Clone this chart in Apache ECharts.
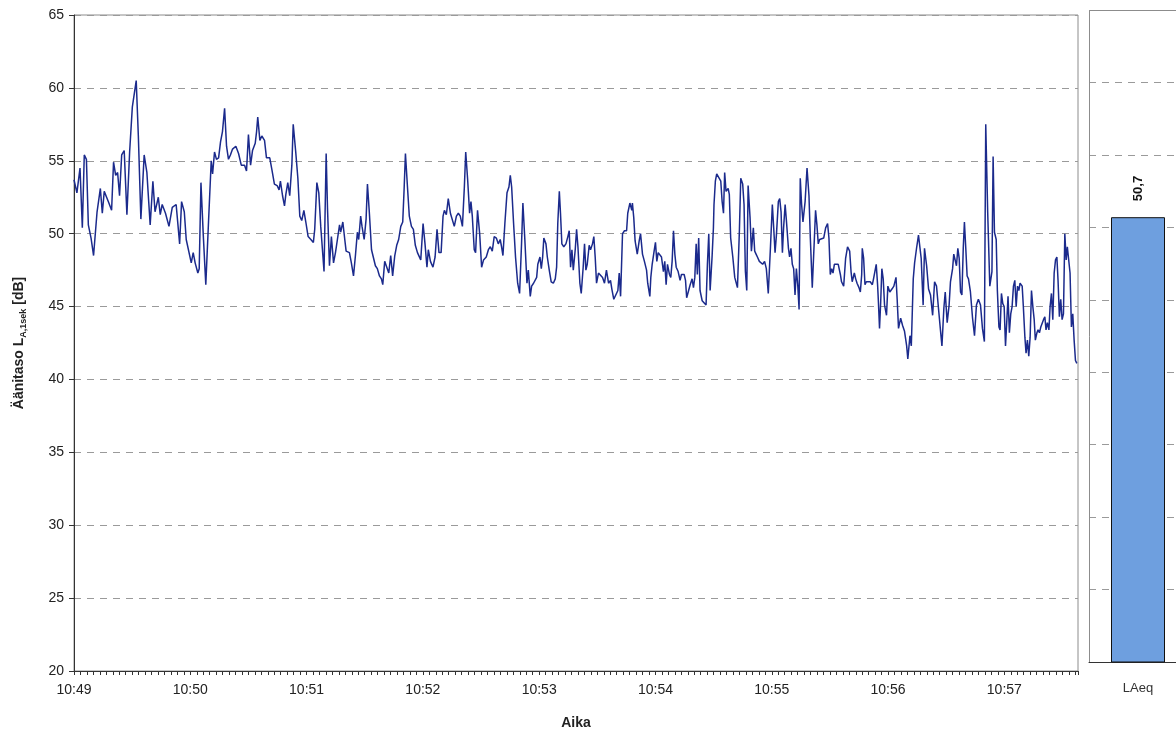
<!DOCTYPE html>
<html>
<head>
<meta charset="utf-8">
<script src="https://cdn.jsdelivr.net/npm/echarts@6/dist/echarts.min.js"></script>
<style>
html,body{margin:0;padding:0;background:#fff;}
#c{width:1176px;height:735px;}
</style>
</head>
<body>
<div id="c"></div>
<script>
// Seconds after 10:49:00
const times = [
0,1.5,3.1,4.3,5.3,6.4,7.4,8.8,10.1,11.9,13.6,14.6,15.6,17.7,19.4,20.4,21.5,22.5,23.5,24.6,25.9,27.3,28.7,30.1,31.1,32.1,33.2,34.5,36.2,37.6,39.3,40.7,41.8,43.5,44.5,45.5,47.2,49.0,50.7,52.7,54.5,55.5,56.9,57.9,
60.5,61.5,62.5,63.9,64.6,65.5,66.7,68.0,69.4,70.8,71.5,72.5,73.5,74.6,75.6,76.6,77.7,78.7,79.7,80.7,81.8,82.8,83.5,84.9,86.3,88.0,89.0,90.0,91.1,92.1,93.5,94.2,94.8,95.9,96.9,98.3,99.3,101.0,102.1,103.4,104.8,105.8,106.5,107.6,108.6,109.3,110.3,111.3,112.4,113.1,114.4,115.5,116.5,117.5,118.6,119.6,
120.8,122.2,123.5,124.2,125.3,126.3,127.3,128.4,129.0,130.1,130.8,131.8,132.8,133.9,134.9,135.9,137.0,137.6,138.7,139.7,140.4,142.1,143.1,144.2,145.2,146.2,146.9,147.9,148.6,149.7,150.7,151.4,152.4,153.5,154.5,155.5,156.5,157.6,158.6,159.3,160.3,161.3,162.4,163.4,164.4,165.5,166.5,167.5,168.6,169.6,170.3,171.0,172.0,173.0,174.1,175.1,176.1,177.2,178.9,
180.1,181.1,182.1,182.8,183.9,185.2,186.3,187.3,188.3,189.4,190.4,191.1,192.1,193.1,194.2,195.2,196.2,197.3,198.3,199.3,200.4,201.4,202.1,203.1,204.1,204.8,205.5,206.5,207.2,208.2,209.3,210.3,211.3,212.7,213.8,214.8,215.8,216.8,217.9,218.9,219.9,220.6,221.3,222.3,223.4,224.4,225.1,225.8,226.8,227.8,228.9,229.9,230.9,231.6,232.6,233.7,234.4,235.4,236.1,237.1,238.1,
238.7,239.3,240.4,241.1,241.8,242.4,243.5,244.2,245.2,246.2,247.3,248.3,249.0,249.6,250.4,251.0,251.7,252.7,253.8,254.8,255.5,256.2,256.9,257.6,258.6,259.3,260.0,261.0,261.7,262.7,263.4,264.1,264.8,265.8,266.5,267.5,268.2,268.9,269.6,270.6,271.6,272.7,273.7,274.7,275.8,276.8,277.5,278.5,279.5,280.6,281.3,282.0,283.0,284.0,285.1,285.7,286.8,287.8,288.1,288.8,289.5,290.6,291.6,292.3,293.3,294.3,295.4,296.0,297.1,
297.6,298.3,299.3,300.0,300.7,301.4,302.1,303.1,304.1,304.8,305.5,306.2,307.2,307.9,308.6,309.3,310.0,310.7,311.7,312.7,313.4,314.1,314.8,315.5,316.1,316.9,317.9,318.9,319.6,320.3,321.0,321.6,322.3,323.0,324.1,325.1,326.1,326.8,327.5,328.2,329.2,329.9,330.2,330.9,331.6,332.6,333.7,334.4,335.1,335.7,336.4,337.5,338.1,338.8,339.9,340.9,342.3,343.3,344.0,345.0,345.7,346.4,347.1,347.8,348.8,349.5,350.5,351.2,351.9,352.6,353.6,354.3,355.3,356.3,
357.2,358.2,359.3,360.3,361.0,361.7,362.4,363.4,364.1,364.8,365.5,366.1,366.9,367.5,368.6,369.2,369.9,370.6,371.3,372.0,372.7,373.4,374.1,374.7,375.4,376.1,377.2,378.2,379.2,379.9,380.9,382.0,382.6,383.3,384.0,384.7,385.7,386.8,387.8,388.8,389.5,390.2,390.9,391.6,392.3,393.3,394.3,395.4,396.0,397.1,398.1,399.1,400.2,400.9,401.5,402.6,403.3,404.0,405.0,405.7,406.4,406.7,407.4,408.1,408.8,409.8,410.8,411.9,412.5,413.2,413.9,414.6,415.0,415.6,
416.2,416.8,417.5,418.2,419.2,419.9,420.9,422.0,423.0,424.1,424.7,425.4,426.5,427.5,428.5,429.6,430.2,431.3,432.0,433.0,433.7,434.7,435.7,436.4,437.1,438.1,438.8,439.9,440.9,441.9,443.0,444.0,445.0,446.0,447.1,447.8,448.8,449.5,450.5,451.5,452.2,453.3,453.9,454.6,455.3,456.0,456.7,457.4,458.1,458.8,459.4,460.1,460.8,461.5,462.5,463.6,464.6,465.6,466.6,467.7,468.7,469.7,470.4,471.4,472.5,473.6,474.2,474.9,
475.8,476.4,477.2,477.8,478.5,479.2,479.9,480.6,481.3,481.9,482.6,483.3,484.0,484.7,485.4,486.1,486.8,487.5,488.1,489.2,489.8,490.6,491.2,491.9,492.6,493.3,494.0,494.7,495.4,496.0,496.8,497.4,498.1,498.8,499.5,500.2,500.9,501.5,502.2,503.0,503.6,504.3,505.0,505.7,506.4,507.1,507.7,508.4,509.1,509.8,510.5,511.2,511.9,512.5,513.3,513.9,514.6,515.3,516.0,516.7,517.4
];
// Sound level LA,1sek (dB)
const levels = [
53.7,52.8,54.5,50.4,55.4,55.1,50.6,49.7,48.5,51.5,53.1,51.4,52.9,52.2,51.6,54.9,54.0,54.2,52.6,55.4,55.7,51.3,55.6,58.7,58.8,60.5,56.7,51.0,55.4,54.2,50.6,53.6,51.5,52.5,51.3,52.0,51.4,50.5,51.8,52.0,49.3,52.2,51.5,49.6,
48.0,48.7,48.0,47.3,47.6,53.5,49.9,46.5,50.8,55.0,54.1,55.6,55.1,55.2,56.3,57.0,58.6,56.0,55.1,55.4,55.8,55.7,56.0,55.5,54.7,54.7,54.3,56.8,54.7,55.7,56.2,57.0,58.0,56.4,56.7,56.4,55.2,55.2,54.4,53.4,53.3,53.0,53.6,52.6,51.9,52.7,53.5,52.6,54.7,57.5,55.6,53.8,51.2,50.9,51.6,50.8,
49.8,49.6,49.4,50.3,53.5,52.8,50.5,48.5,47.4,55.5,51.7,47.8,49.8,48.0,48.7,49.6,50.6,50.1,50.8,49.6,48.8,48.7,48.0,47.1,48.5,50.1,49.6,51.2,50.5,49.6,51.0,53.4,51.4,48.9,48.8,47.8,47.6,47.1,46.9,46.5,48.1,48.0,47.3,48.5,47.1,48.5,49.2,49.6,50.5,50.8,53.0,55.5,53.3,51.2,50.5,50.3,49.2,48.7,48.2,
50.7,49.3,47.7,48.9,48.1,47.7,48.4,50.3,48.7,48.7,51.2,51.6,51.3,52.4,51.4,51.4,50.5,51.2,51.4,51.2,50.5,53.2,55.6,53.7,51.4,52.2,51.2,48.9,48.7,51.6,50.0,47.7,48.2,48.4,48.9,49.1,48.8,49.8,49.7,49.3,49.6,49.1,48.5,50.7,52.8,53.2,54.0,53.2,50.7,48.4,46.6,45.9,49.3,52.1,49.6,46.6,47.5,45.7,46.4,46.6,46.6,
47.0,47.9,48.4,47.6,48.4,49.7,49.3,48.4,47.5,46.7,46.6,46.9,47.7,50.7,52.9,51.4,49.3,49.1,49.3,49.8,50.2,47.7,48.9,47.5,48.9,50.3,49.1,46.6,45.9,47.7,49.3,47.5,47.9,49.2,48.9,49.3,49.8,48.4,46.6,47.3,47.4,47.0,46.6,47.5,46.6,46.8,46.2,45.5,45.5,46.1,47.3,45.7,50.0,50.2,50.2,51.4,52.1,51.6,52.1,51.1,49.5,48.6,49.5,50.0,48.6,48.1,47.5,46.6,45.7,
47.0,47.9,48.8,49.4,48.1,48.7,48.6,48.4,47.4,48.1,46.5,47.9,47.2,47.0,48.1,50.2,48.6,47.7,47.4,46.8,47.2,47.3,47.2,46.8,45.6,46.0,46.5,46.9,46.3,47.0,49.3,47.2,49.7,46.1,45.4,45.4,45.1,47.9,50.0,46.1,48.4,50.4,52.0,53.6,54.1,54.2,53.6,52.2,51.4,54.2,52.9,53.1,52.7,49.7,48.4,47.0,46.3,50.2,53.8,53.4,52.0,47.4,46.1,53.3,51.1,48.8,50.4,48.8,48.6,48.4,48.1,48.0,47.9,48.1,
47.6,45.9,49.0,52.0,50.4,48.7,49.9,52.2,52.4,51.5,48.7,50.4,52.0,51.0,49.0,48.4,49.0,47.9,47.6,45.8,47.6,46.5,44.8,53.8,52.0,50.8,52.2,54.5,52.6,49.7,46.3,49.7,51.6,50.6,49.3,49.6,49.5,49.7,50.4,50.7,49.7,47.2,47.6,47.3,47.9,48.0,47.9,47.2,46.7,46.4,48.3,49.1,48.8,47.4,46.7,47.3,46.9,46.6,46.3,46.0,47.2,49.0,48.3,46.5,46.7,46.7,46.7,46.5,46.9,47.4,47.9,46.5,45.4,43.5,
45.3,47.6,46.9,45.1,44.4,46.4,46.0,46.2,46.4,47.0,45.5,43.5,44.2,43.7,43.3,42.3,41.4,43.0,42.3,46.9,48.0,49.0,49.9,50.0,48.3,45.1,49.0,47.8,46.2,45.8,44.4,46.7,46.4,44.9,43.3,42.3,44.9,46.0,43.9,45.1,46.7,47.6,48.6,48.7,47.8,49.0,48.3,46.0,45.8,49.0,50.8,49.0,47.1,46.9,46.0,44.2,43.0,45.1,45.5,45.1,43.5,42.6,57.5,51.5,46.4,47.4,55.3,50.1,
49.6,46.1,43.6,43.4,45.9,45.2,45.0,42.3,44.1,45.7,43.2,44.5,45.0,46.4,46.8,45.0,46.4,46.1,46.6,46.4,45.0,42.9,41.8,42.7,41.6,42.9,46.1,45.0,44.1,42.7,43.2,43.4,43.2,43.6,43.6,44.1,44.3,43.4,43.9,43.4,45.0,45.9,44.1,47.3,48.2,48.4,46.8,44.3,45.5,44.1,44.5,50.0,48.2,49.1,49.1,47.3,43.6,44.5,42.7,41.3,41.1
];
const minuteLabels = ['10:49','10:50','10:51','10:52','10:53','10:54','10:55','10:56','10:57'];
const barCategories = ['LAeq'];
const barValues = [50.7];

const lineData = times.map((t, i) => [t, levels[i]]);
const chart = echarts.init(document.getElementById('c'));
const font = 'Liberation Sans, Arial, sans-serif';
const gridLine = { show: true, lineStyle: { color: '#9a9a9a', type: [7, 6], width: 1 } };
const frame = { stroke: '#8c8c8c', lineWidth: 1 };

chart.setOption({
  animation: false,
  backgroundColor: '#ffffff',
  textStyle: { fontFamily: font },
  graphic: [
    { type: 'line', shape: { x1: 1089.5, y1: 10.5, x2: 1176, y2: 10.5 }, style: frame, z: 10 },
    { type: 'line', shape: { x1: 1089.5, y1: 10.5, x2: 1089.5, y2: 662 }, style: frame, z: 10 }
  ],
  grid: [
    { left: 74, top: 15, width: 1004, height: 657, show: true, borderColor: '#8c8c8c', borderWidth: 1 },
    { left: 1100, top: 10, width: 76, height: 652, show: false },
    { left: 1089, top: 10, right: 0, height: 652, show: false }
  ],
  xAxis: [
    {
      type: 'value', gridIndex: 0, min: 0, max: 518, interval: 60,
      name: 'Aika', nameLocation: 'middle', nameGap: 45,
      nameTextStyle: { fontSize: 14, fontWeight: 'bold', color: '#222', fontFamily: font },
      axisLine: { show: true, lineStyle: { color: '#333', width: 1 } },
      axisTick: { show: true, length: 4, lineStyle: { color: '#333' } },
      minorTick: { show: true, splitNumber: 18, length: 4, lineStyle: { color: '#333' } },
      splitLine: { show: false },
      axisLabel: {
        fontSize: 14, color: '#222', margin: 12, fontFamily: font,
        formatter: v => (v % 60 === 0 && minuteLabels[v / 60]) ? minuteLabels[v / 60] : ''
      }
    },
    {
      type: 'category', gridIndex: 1, data: barCategories,
      axisLine: { show: false },
      axisTick: { show: false },
      axisLabel: { fontSize: 13, color: '#333', margin: 20, fontFamily: font }
    },
    {
      type: 'value', gridIndex: 2, min: 0, max: 1,
      axisLine: { show: true, lineStyle: { color: '#333' } },
      axisTick: { show: false }, axisLabel: { show: false }, splitLine: { show: false }
    }
  ],
  yAxis: [
    {
      type: 'value', gridIndex: 0, min: 20, max: 65, interval: 5,
      name: '{a|Äänitaso L}{s|A,1sek}{a| [dB]}', nameLocation: 'middle', nameGap: 46, nameRotate: 90,
      nameTextStyle: {
        rich: {
          a: { fontSize: 14, fontWeight: 'bold', color: '#222', fontFamily: font, lineHeight: 18 },
          s: { fontSize: 9, fontWeight: 'bold', color: '#222', fontFamily: font, lineHeight: 18, verticalAlign: 'bottom', padding: [6, 0, 0, 0] }
        }
      },
      axisLine: { show: true, lineStyle: { color: '#333', width: 1 } },
      axisTick: { show: true, length: 5, lineStyle: { color: '#333' } },
      splitLine: gridLine,
      axisLabel: { fontSize: 14, color: '#222', margin: 10, fontFamily: font }
    },
    {
      type: 'value', gridIndex: 1, min: 20, max: 65, interval: 5,
      axisLine: { show: false }, axisTick: { show: false }, axisLabel: { show: false },
      splitLine: { show: false }
    },
    {
      type: 'value', gridIndex: 2, min: 20, max: 65, interval: 5,
      axisLine: { show: false }, axisTick: { show: false }, axisLabel: { show: false },
      splitLine: gridLine
    }
  ],
  series: [
    {
      type: 'line', xAxisIndex: 0, yAxisIndex: 0, data: lineData,
      showSymbol: false, symbol: 'none',
      lineStyle: { color: '#1b2a8c', width: 1.5 }
    },
    {
      type: 'bar', xAxisIndex: 1, yAxisIndex: 1, data: barValues,
      barWidth: 54, z: 5,
      itemStyle: { color: '#6e9fdf', borderColor: '#111', borderWidth: 1 },
      label: {
        show: true, position: 'top', rotate: 90, align: 'left', verticalAlign: 'middle', distance: 16,
        fontSize: 13, fontWeight: 'bold', color: '#111', fontFamily: font,
        formatter: p => p.value.toFixed(1).replace('.', ',')
      }
    }
  ]
});
</script>
</body>
</html>
